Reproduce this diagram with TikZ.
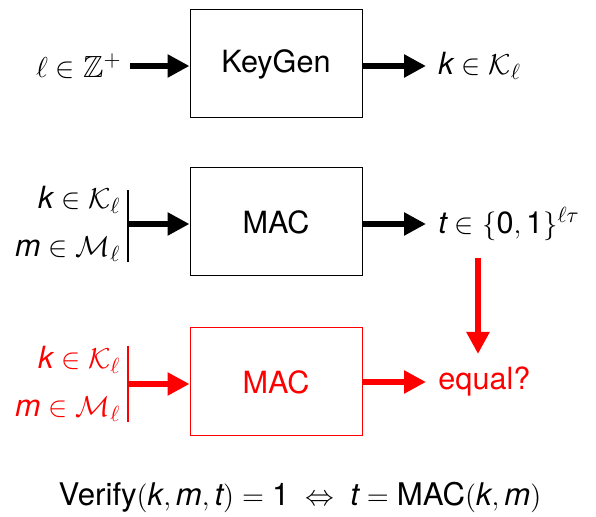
\documentclass[tikz,border=0pt]{standalone}
\usepackage{amsmath,amssymb}
\usepackage{fontspec}
\setmainfont{TeX Gyre Heros}
\usetikzlibrary{arrows.meta}
\newcommand{\iv}[1]{\text{\itshape #1}}
\tikzset{
  algbox/.style={draw, line width=0.5pt, minimum width=86pt, minimum height=54pt, font=\fontsize{15.3}{18}\selectfont},
  bigarrow/.style={line width=3pt, -{Triangle[length=11pt,width=11pt]}},
  lbl/.style={font=\fontsize{15.3}{18}\selectfont, inner sep=0pt},
  inbar/.style={line width=0.6pt}
}
\begin{document}
\begin{tikzpicture}[x=0.5pt,y=-0.5pt]
  \useasboundingbox (0,0) rectangle (596,517);

  % key generation
  \node[algbox] (keygen) at (276,64) {KeyGen};
  \node[lbl, anchor=east] (lin) at (122,66) {$\ell \in \mathbb{Z}^{+}$};
  \node[lbl, anchor=west] (kout) at (438,66) {$\iv{k} \in \mathcal{K}_{\ell}$};
  \coordinate (lstart) at (130,66);
  \coordinate (kend) at (426,66);
  \draw[bigarrow] (lstart) -- (lstart -| keygen.west);
  \draw[bigarrow] (keygen.east |- kend) -- (kend);

  % tagging
  \node[algbox] (mac) at (276,222) {MAC};
  \node[lbl, anchor=east, align=right] (kmin) at (121,224)
    {$\iv{k} \in \mathcal{K}_{\ell}$\\[6pt] $\iv{m} \in \mathcal{M}_{\ell}$};
  \coordinate (bar1) at (128,224);
  \draw[inbar] (128,190) -- (128,262);
  \draw[bigarrow] (bar1) -- (bar1 -| mac.west);
  \node[lbl, anchor=west] (tout) at (438,224) {$\iv{t} \in \{\text{0},\text{1}\}^{\ell\tau}$};
  \coordinate (tend) at (426,224);
  \draw[bigarrow] (mac.east |- tend) -- (tend);

  % verification
  \begin{scope}[red]
    \node[algbox] (vmac) at (276,382) {MAC};
    \node[lbl, anchor=east, align=right] (vkmin) at (121,384)
      {$\iv{k} \in \mathcal{K}_{\ell}$\\[6pt] $\iv{m} \in \mathcal{M}_{\ell}$};
    \coordinate (bar2) at (128,384);
    \draw[inbar] (128,346) -- (128,422);
    \draw[bigarrow] (bar2) -- (bar2 -| vmac.west);
    \node[lbl, anchor=west] (eq) at (438,382) {equal?};
    \coordinate (eend) at (426,382);
    \draw[bigarrow] (vmac.east |- eend) -- (eend);
    \coordinate (tdown) at (478,258);
    \draw[bigarrow] (tdown) -- (478,354);
  \end{scope}

  \node[lbl, font=\fontsize{15.6}{18}\selectfont] (verify) at (300,497)
    {Verify$(\iv{k},\iv{m},\iv{t}) = \text{1} \;\Leftrightarrow\; \iv{t} = \text{MAC}(\iv{k},\iv{m})$};
\end{tikzpicture}
\end{document}
